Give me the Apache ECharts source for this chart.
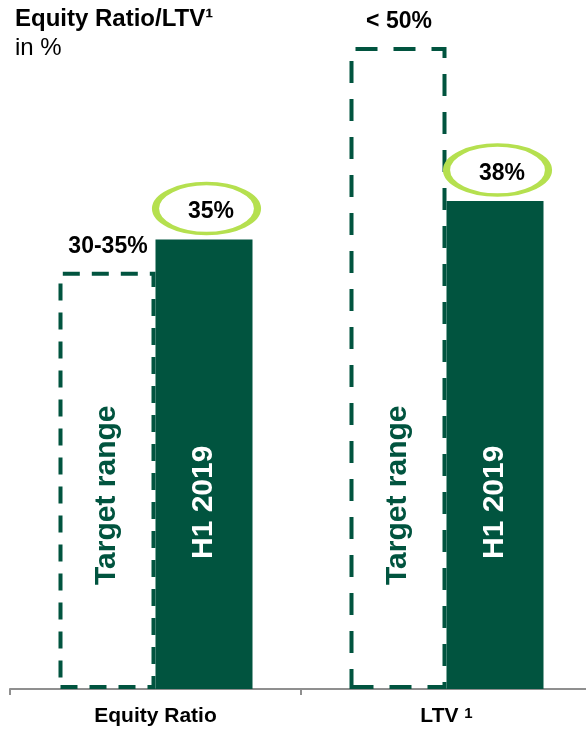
<!DOCTYPE html>
<html>
<head>
<meta charset="utf-8">
<script src="https://cdn.jsdelivr.net/npm/echarts@6/dist/echarts.min.js"></script>
<style>
html,body{margin:0;padding:0;background:#ffffff;}
#c{width:586px;height:730px;}
</style>
</head>
<body>
<div id="c"></div>
<script>
// ---- data ----
const categories = ['Equity Ratio', 'LTV'];
const categoryFootnotes = ['', '1'];
const targetValues = [32.5, 50];
const targetLabels = ['30-35%', '< 50%'];
const h1Values = [35, 38];
const h1Labels = ['35%', '38%'];
const targetSeriesName = 'Target range';
const h1SeriesName = 'H1 2019';
const titleText = 'Equity Ratio/LTV¹';
const subtitleText = 'in %';

// ---- styles ----
const GREEN = '#01543F';
const LIME = '#B5E04F';
const FONT = '"Liberation Sans", Arial, sans-serif';
const dashPatterns = [[17, 12], [22, 16]];
const BAR_W = 97;

const chart = echarts.init(document.getElementById('c'), null, {renderer: 'canvas'});

const option = {
  animation: false,
  backgroundColor: '#ffffff',
  title: [
    {text: titleText, left: 10, top: 2,
     textStyle: {fontFamily: FONT, fontSize: 24, fontWeight: 'bold', color: '#000'}},
    {text: subtitleText, left: 10, top: 31,
     textStyle: {fontFamily: FONT, fontSize: 24, fontWeight: 'normal', color: '#000'}}
  ],
  grid: {left: 10, width: 582, top: 47, bottom: 41, containLabel: false, outerBoundsMode: 'none'},
  xAxis: {
    type: 'category',
    data: categories,
    axisLine: {show: true, lineStyle: {color: '#8f8f8f', width: 2}},
    axisTick: {show: true, length: 6, lineStyle: {color: '#8f8f8f', width: 2}},
    axisLabel: {
      margin: 17,
      formatter: function (v, i) {
        const fn = categoryFootnotes[i];
        return fn ? '{b|' + v + ' }{s|' + fn + '}' : '{b|' + v + '}';
      },
      rich: {
        b: {fontFamily: FONT, fontSize: 21, fontWeight: 'bold', color: '#000'},
        s: {fontFamily: FONT, fontSize: 15, fontWeight: 'bold', color: '#000', verticalAlign: 'top'}
      }
    }
  },
  yAxis: {type: 'value', min: 0, max: 50, show: false, splitLine: {show: false}},
  series: [
    {
      name: targetSeriesName,
      type: 'bar',
      stack: 'target',
      barWidth: BAR_W,
      barGap: '0%',
      data: targetValues.map((v, i) => ({
        value: v,
        itemStyle: {color: 'rgba(0,0,0,0)', borderColor: GREEN, borderWidth: 4,
                    borderType: dashPatterns[i]}
      })),
      label: {
        show: true, position: 'insideBottom', distance: 104, rotate: 90,
        align: 'left', verticalAlign: 'middle',
        formatter: targetSeriesName,
        fontFamily: FONT, fontSize: 30, fontWeight: 'bold', color: GREEN
      },
      silent: true, z: 2
    },
    {
      name: 'targetTop',
      type: 'bar',
      stack: 'target',
      barWidth: BAR_W,
      data: targetValues.map(() => 0),
      itemStyle: {color: 'rgba(0,0,0,0)'},
      label: {
        show: true, position: 'top', distance: 14, offset: [1, 0],
        formatter: p => targetLabels[p.dataIndex],
        fontFamily: FONT, fontSize: 23, fontWeight: 'bold', color: '#000'
      },
      silent: true, z: 3
    },
    {
      name: h1SeriesName,
      type: 'bar',
      stack: 'h1',
      barWidth: BAR_W,
      barGap: '0%',
      data: h1Values,
      itemStyle: {color: GREEN},
      label: {
        show: true, position: 'insideBottom', distance: 130, rotate: 90,
        align: 'left', verticalAlign: 'middle',
        formatter: h1SeriesName,
        fontFamily: FONT, fontSize: 30, fontWeight: 'bold', color: '#ffffff'
      },
      silent: true, z: 3
    },
    {
      name: 'h1Top',
      type: 'bar',
      stack: 'h1',
      barWidth: BAR_W,
      barGap: '0%',
      data: h1Values.map(() => 0),
      itemStyle: {color: 'rgba(0,0,0,0)'},
      label: {
        show: true, position: 'top', distance: 16, offset: [7, 0],
        formatter: p => h1Labels[p.dataIndex],
        fontFamily: FONT, fontSize: 23, fontWeight: 'bold', color: '#000'
      },
      silent: true, z: 4
    },
    {
      name: 'highlight',
      type: 'scatter',
      data: h1Values.map((v, i) => [i, v]),
      symbol: 'path://M0,26A52,26 0 1,0 104,26A52,26 0 1,0 0,26Z',
      symbolSize: [102, 50],
      symbolOffset: [51, -31],
      itemStyle: {color: 'rgba(0,0,0,0)', borderColor: LIME, borderWidth: 5, opacity: 1},
      silent: true, z: 5
    }
  ]
};
chart.setOption(option);
</script>
</body>
</html>
